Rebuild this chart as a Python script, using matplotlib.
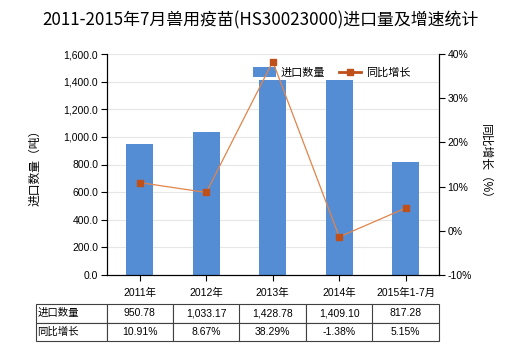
import matplotlib
matplotlib.use('Agg')
import matplotlib.pyplot as plt
from matplotlib.patches import Patch
from matplotlib.lines import Line2D

plt.rcParams['font.family'] = ['Liberation Sans', 'Noto Sans CJK SC', 'DejaVu Sans']

categories = ['2011年', '2012年', '2013年', '2014年', '2015年1-7月']
volume = [950.78, 1033.17, 1428.78, 1409.10, 817.28]
growth = [10.91, 8.67, 38.29, -1.38, 5.15]
volume_labels = ['950.78', '1,033.17', '1,428.78', '1,409.10', '817.28']
growth_labels = ['10.91%', '8.67%', '38.29%', '-1.38%', '5.15%']

bar_color = '#548DD4'
line_color = '#E2844A'
marker_color = '#C0501A'

fig = plt.figure(figsize=(5.2, 3.5), dpi=100)
ax = fig.add_axes([106.5 / 520, 1 - 275 / 350, 332.5 / 520, 221 / 350])
ax2 = ax.twinx()

x = list(range(len(categories)))
ax.bar(x, volume, width=0.4, color=bar_color, zorder=2)
ax.set_xlim(-0.5, len(categories) - 0.5)
ax.set_ylim(0, 1600)
ax.set_yticks(range(0, 1601, 200))
ax.set_yticklabels(['{:,.1f}'.format(v) for v in range(0, 1601, 200)], fontsize=7.5)
ax.set_xticks(x)
ax.set_xticklabels(categories, fontsize=7.5)
ax.tick_params(axis='x', length=4, pad=5)
ax.tick_params(axis='y', length=4, pad=2)
ax.grid(axis='y', color='#E6E6E6', linewidth=0.8, zorder=0)
ax.set_axisbelow(True)
ax.spines['top'].set_visible(False)
ax.set_ylabel('进口数量（吨）', fontsize=8.5, labelpad=16)

ax2.plot(x, growth, color=line_color, linewidth=0.9, marker='s', markersize=4,
         markerfacecolor=marker_color, markeredgecolor=marker_color, zorder=3)
ax2.set_ylim(-10, 40)
ax2.set_yticks(range(-10, 41, 10))
ax2.set_yticklabels(['{}%'.format(v) for v in range(-10, 41, 10)], fontsize=7.5)
ax2.tick_params(axis='y', length=4, pad=2)
ax2.spines['top'].set_visible(False)
ax2.set_ylabel('同比增长（%）', fontsize=8.5, rotation=270, labelpad=14)

handles = [Patch(facecolor=bar_color, edgecolor='none'),
           Line2D([0], [0], color='#C0501A', linewidth=2, marker='s', markersize=4,
                  markerfacecolor=marker_color)]
leg = ax.legend(handles, ['进口数量', '同比增长'], loc='upper right',
                bbox_to_anchor=(0.92, 0.95), ncol=2, frameon=True, fontsize=8,
                handlelength=2.0, handleheight=1.0, columnspacing=1.3,
                borderaxespad=0, borderpad=0.2, handletextpad=0.4)
leg.get_frame().set_edgecolor('none')
leg.get_frame().set_facecolor('white')
leg.get_frame().set_alpha(1)

fig.suptitle('2011-2015年7月兽用疫苗(HS30023000)进口量及增速统计', fontsize=12.2,
             y=1 - 20 / 350, va='center', family=['Noto Sans CJK SC', 'DejaVu Sans'])

cell_text = [['进口数量'] + volume_labels, ['同比增长'] + growth_labels]
first_w = 70.5 / 332.5
tbl = ax.table(cellText=cell_text, cellLoc='center',
               colWidths=[first_w] + [1 / 5] * 5,
               bbox=[-first_w, -(341 - 275) / 221, 1 + first_w, 37 / 221])
tbl.auto_set_font_size(False)
tbl.set_fontsize(7.5)
for (r, c), cell in tbl.get_celld().items():
    cell.set_edgecolor('#404040')
    cell.set_linewidth(0.8)
    if c == 0:
        cell.set_text_props(ha='left')
        cell._loc = 'left'
        cell.PAD = 0.02

fig.savefig('out.png', dpi=100)
